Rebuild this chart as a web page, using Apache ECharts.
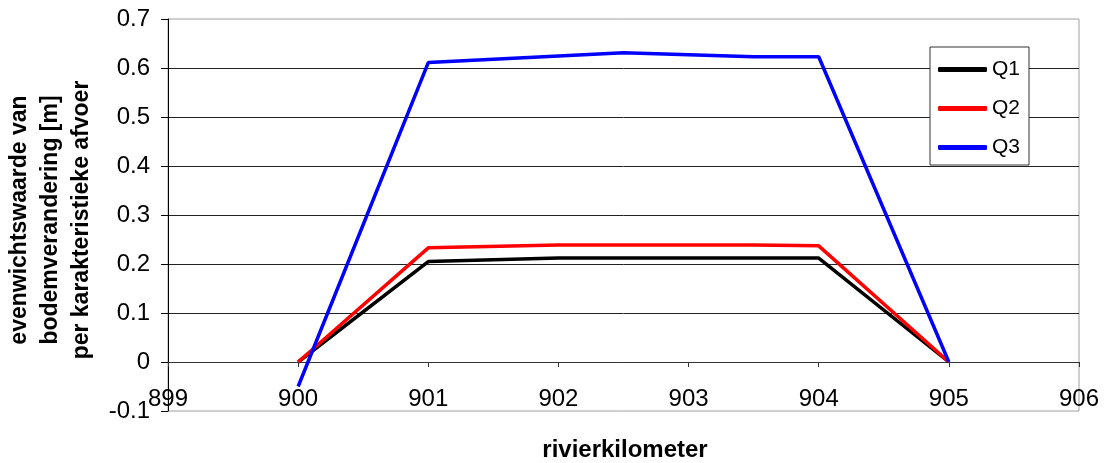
<!DOCTYPE html>
<html>
<head>
<meta charset="utf-8">
<script src="https://cdn.jsdelivr.net/npm/echarts@6/dist/echarts.min.js"></script>
<style>
  html, body { margin: 0; padding: 0; background: #fff; }
  #chart { width: 1105px; height: 463px; }
</style>
</head>
<body>
<div id="chart"></div>
<script>
// River kilometre positions and equilibrium bed change per discharge level
const seriesNames = ['Q1', 'Q2', 'Q3'];
const seriesColors = ['#000000', '#ff0000', '#0000ff'];

const q1Km    = [900, 901, 902, 903, 904, 905];
const q1Value = [0, 0.205, 0.212, 0.212, 0.212, 0];

const q2Km    = [900, 901, 902, 903.5, 904, 905];
const q2Value = [0, 0.233, 0.239, 0.239, 0.237, 0];

const q3Km    = [900, 901, 902.5, 903.5, 904, 905];
const q3Value = [-0.05, 0.611, 0.631, 0.623, 0.623, 0];

const xTicks = [899, 900, 901, 902, 903, 904, 905, 906];
const yTicks = [-0.1, 0, 0.1, 0.2, 0.3, 0.4, 0.5, 0.6, 0.7];

const yTitle = 'evenwichtswaarde van\nbodemverandering [m]\nper karakteristieke afvoer';
const xTitle = 'rivierkilometer';

const FONT = '"Liberation Sans", Arial, sans-serif';

// plot area edges in pixels
const GRID = { left: 168, right: 26, top: 19, bottom: 52 };
const PLOT_H = 463 - GRID.top - GRID.bottom;
// the km axis crosses the value axis at 0
const zeroOffset = -PLOT_H * (0 - yTicks[0]) / (yTicks[yTicks.length - 1] - yTicks[0]);

function pairs(xs, ys) {
  return xs.map((x, i) => [x, ys[i]]);
}

const seriesData = [pairs(q1Km, q1Value), pairs(q2Km, q2Value), pairs(q3Km, q3Value)];

const chart = echarts.init(document.getElementById('chart'), null, { renderer: 'canvas' });

chart.setOption({
  animation: false,
  backgroundColor: '#ffffff',
  grid: {
    left: GRID.left, right: GRID.right, top: GRID.top, bottom: GRID.bottom,
    show: true, borderColor: '#a0a0a0', borderWidth: 1, backgroundColor: 'transparent'
  },
  xAxis: {
    type: 'value',
    position: 'bottom',
    offset: zeroOffset,
    min: xTicks[0], max: xTicks[xTicks.length - 1], interval: 1,
    axisLine: { onZero: false, lineStyle: { color: '#333', width: 1 } },
    axisTick: { show: true, inside: false, length: 5, lineStyle: { color: '#333' } },
    axisLabel: { color: '#000', fontSize: 24, fontFamily: FONT, margin: 25 },
    splitLine: { show: false }
  },
  yAxis: {
    type: 'value',
    min: yTicks[0], max: yTicks[yTicks.length - 1], interval: 0.1,
    axisLine: { show: true, onZero: false, lineStyle: { color: '#000', width: 1 } },
    axisTick: { show: true, inside: false, length: 7, lineStyle: { color: '#000' } },
    axisLabel: {
      color: '#000', fontSize: 24, fontFamily: FONT, margin: 18,
      formatter: v => (Math.abs(v) < 1e-9 ? '0' : v.toFixed(1))
    },
    splitLine: { show: true, showMinLine: false, showMaxLine: false, lineStyle: { color: '#222', width: 1 } }
  },
  legend: {
    orient: 'vertical',
    left: 930, top: 47,
    data: seriesNames,
    icon: 'roundRect',
    itemWidth: 49, itemHeight: 5,
    itemGap: 18,
    padding: [12, 9, 7, 8],
    backgroundColor: '#ffffff',
    borderColor: '#333', borderWidth: 1,
    textStyle: { color: '#000', fontSize: 21, fontFamily: FONT }
  },
  series: seriesNames.map((name, i) => ({
    name,
    type: 'line',
    data: seriesData[i],
    symbol: 'none',
    color: seriesColors[i],
    lineStyle: { color: seriesColors[i], width: 3.5 },
    z: 2 + i
  })),
  graphic: [
    {
      type: 'text',
      x: 51, y: 220,
      rotation: Math.PI / 2,
      style: {
        text: yTitle,
        fill: '#000',
        font: 'bold 23px ' + FONT,
        lineHeight: 31,
        align: 'center',
        verticalAlign: 'middle'
      }
    },
    {
      type: 'text',
      x: 625, y: 450,
      style: {
        text: xTitle,
        fill: '#000',
        font: 'bold 24px ' + FONT,
        align: 'center',
        verticalAlign: 'middle'
      }
    }
  ]
});
</script>
</body>
</html>
